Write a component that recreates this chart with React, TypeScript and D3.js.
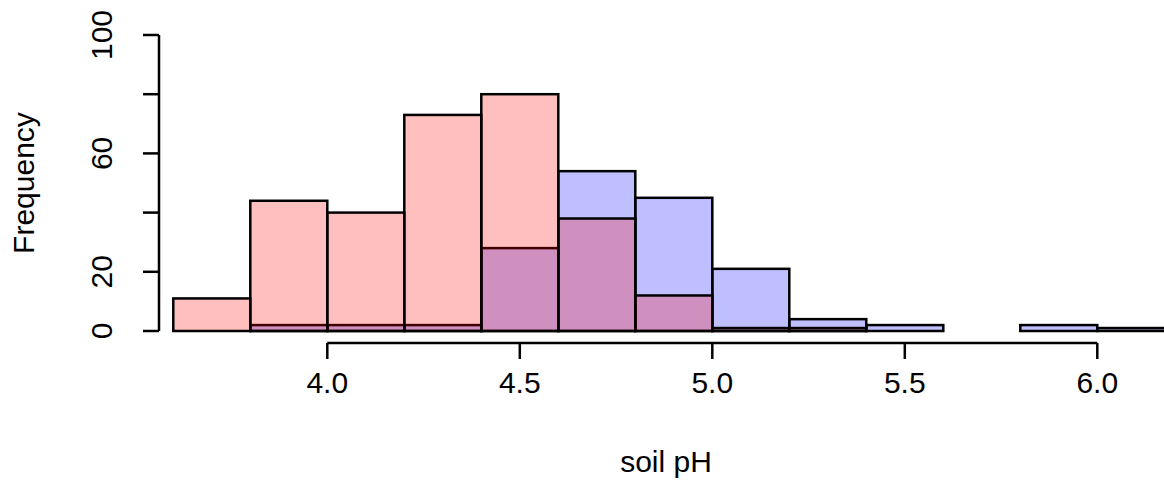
import React from 'react';
import * as d3 from 'd3';

// histogram bins (soil pH), 0.2 wide
const binStarts = [3.6, 3.8, 4.0, 4.2, 4.4, 4.6, 4.8, 5.0, 5.2, 5.4, 5.6, 5.8, 6.0];
const binWidth = 0.2;
const redCounts = [11, 44, 40, 73, 80, 38, 12, 1, 1, 0, 0, 0, 0];
const blueCounts = [0, 2, 2, 2, 28, 54, 45, 21, 4, 2, 0, 2, 1];

const xTicks = [4.0, 4.5, 5.0, 5.5, 6.0];
const yTicks = [0, 20, 40, 60, 80, 100];
const yTickLabels = [0, 20, 60, 100];

const W = 1164;
const H = 504;
const font = '"Liberation Sans", Arial, Helvetica, sans-serif';

const App = () => {
  // scales
  const x = d3.scaleLinear().domain([4, 6]).range([327.3, 1097.3]);
  const y = d3.scaleLinear().domain([0, 100]).range([331, 35]);

  const plotLeft = 159;
  const plotBottom = 343;
  const tick = 16;

  const bars = (counts: number[], fill: string) =>
    counts.map((c, i) => (
      <rect
        key={i}
        x={x(binStarts[i])}
        y={y(c)}
        width={x(binStarts[i] + binWidth) - x(binStarts[i])}
        height={y(0) - y(c)}
        fill={fill}
        stroke="#000"
        strokeWidth={2.5}
      />
    ));

  return (
    <div style={{ position: 'absolute', left: 0, top: 0 }}>
      <svg width={W} height={H} style={{ display: 'block', background: '#fff' }} fontFamily={font}>
        {/* blue drawn first, red over it */}
        <g>{bars(blueCounts, 'rgba(0,0,255,0.25)')}</g>
        <g>{bars(redCounts, 'rgba(255,0,0,0.25)')}</g>

        {/* y axis */}
        <g stroke="#000" strokeWidth={2.5} fill="none">
          <line x1={plotLeft} x2={plotLeft} y1={y(0)} y2={y(100)} />
          {yTicks.map(t => (
            <line key={t} x1={plotLeft - tick} x2={plotLeft} y1={y(t)} y2={y(t)} />
          ))}
        </g>
        {yTickLabels.map(t => (
          <text
            key={t}
            transform={`translate(112,${y(t)}) rotate(-90)`}
            textAnchor="middle"
            fontSize={30}
          >
            {t}
          </text>
        ))}

        {/* x axis */}
        <g stroke="#000" strokeWidth={2.5} fill="none">
          <line x1={x(4)} x2={x(6)} y1={plotBottom} y2={plotBottom} />
          {xTicks.map(t => (
            <line key={t} x1={x(t)} x2={x(t)} y1={plotBottom} y2={plotBottom + tick} />
          ))}
        </g>
        {xTicks.map(t => (
          <text key={t} x={x(t)} y={393} textAnchor="middle" fontSize={30}>
            {t.toFixed(1)}
          </text>
        ))}

        {/* axis titles */}
        <text x={666} y={472} textAnchor="middle" fontSize={30}>soil pH</text>
        <text transform="translate(34,183) rotate(-90)" textAnchor="middle" fontSize={30}>
          Frequency
        </text>
      </svg>
    </div>
  );
};

export default App;
